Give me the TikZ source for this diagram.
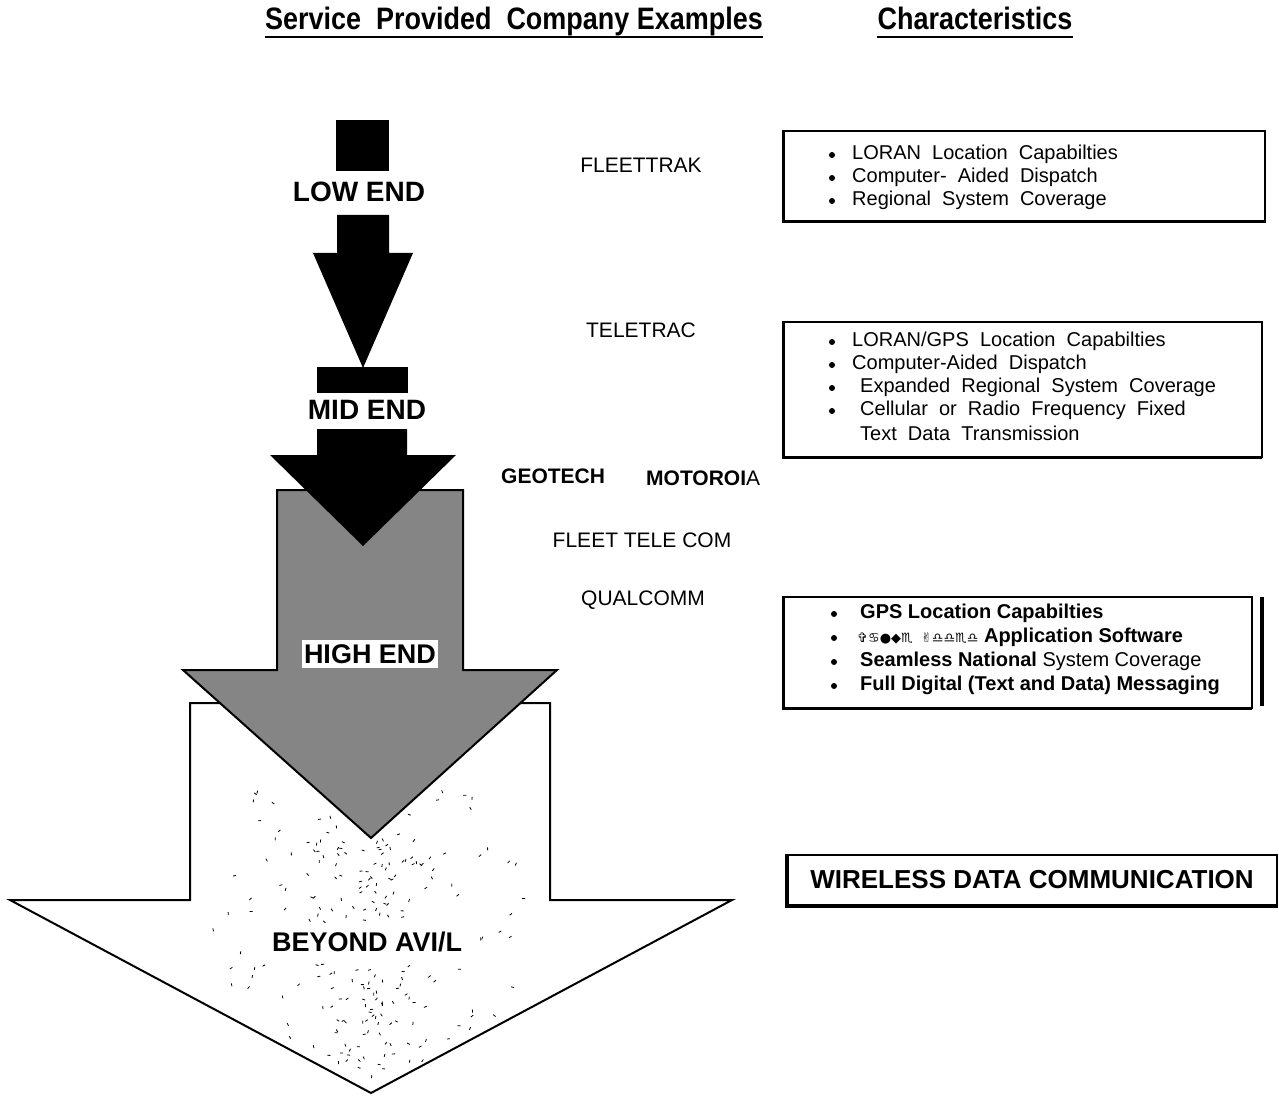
\documentclass[tikz,border=0pt]{standalone}
\usepackage{fontspec}
\setmainfont{Liberation Sans}
\newfontfamily\symfont{DejaVu Sans}
\begin{document}
\begin{tikzpicture}[x=1pt,y=-1pt,
  lbl/.style={inner sep=0pt,font=\fontsize{21}{24}\selectfont},
  blbl/.style={inner sep=0pt,font=\fontsize{21}{24}\selectfont\bfseries},
  big/.style={inner sep=0pt,font=\fontsize{28}{32}\selectfont\bfseries},
  hdr/.style={inner sep=0pt,font=\fontsize{31}{34}\selectfont\bfseries},
  charbox/.style={draw,line width=2pt,fill=white},
  item/.style={inner sep=0pt,anchor=west,font=\fontsize{20}{22}\selectfont},
  bitem/.style={inner sep=0pt,anchor=west,font=\fontsize{20}{22}\selectfont\bfseries},
  bul/.style={circle,fill=black,inner sep=0pt,minimum size=6pt},
  ]
\useasboundingbox (0,0) rectangle (1279,1099);
% headers
\node[hdr,anchor=base] (h1) at (514,30) {\scalebox{0.87}[1]{Service\ \ Provided\ \ Company Examples}};
\node[hdr,anchor=base] (h2) at (975,30) {\scalebox{0.87}[1]{Characteristics}};
\draw[line width=2.5pt] ([yshift=-7pt]h1.base west) -- ([yshift=-7pt]h1.base east);
\draw[line width=2.5pt] ([yshift=-7pt]h2.base west) -- ([yshift=-7pt]h2.base east);

% white arrow (BEYOND)
\draw[line width=2pt,fill=white] (190,703) -- (550,703) -- (550,900) -- (732,900) -- (371,1093) -- (10,900) -- (190,900) -- cycle;
% speckles
\pgfmathsetseed{11}
\foreach \i in {1,...,320} {
  \pgfmathsetmacro{\px}{371+rand*abs(rand)*185}
  \pgfmathsetmacro{\py}{790+rnd*290}
  \pgfmathsetmacro{\ang}{rnd*180}
  \pgfmathparse{((\py<=900)*(abs(\px-371)<168)+(\py>900)*(abs(\px-371)<(1090-\py)*1.8))*(1-(\py<846)*(abs(\px-371)<(846-\py)*1.2))*(1-(\py>922)*(\py<964)*(\px>266)*(\px<478))}
  \ifdim\pgfmathresult pt>0.5pt
    \draw[line width=0.8pt,rotate around={\ang:(\px,\py)}] (\px-1.5,\py) -- (\px+1.5,\py);
  \fi
}
% gray arrow (HIGH END)
\draw[line width=2pt,fill=black!48] (277,490) -- (463,490) -- (463,670) -- (557,670) -- (371,838) -- (183,670) -- (277,670) -- cycle;
% black mid arrow
\fill (317,429) -- (407,429) -- (407,455) -- (456,455) -- (363,546) -- (270,455) -- (317,455) -- cycle;
\fill (317,367) rectangle (408,393);
% black low arrow
\fill (337,215) -- (389,215) -- (389,253) -- (413,253) -- (363,368) -- (313,253) -- (337,253) -- cycle;
\fill (336,120) rectangle (389,171);

\node[big] (low) at (359,192) {LOW END};
\node[big] (mid) at (367,410) {MID END};
\node[fill=white,inner xsep=2pt,inner ysep=4pt,font=\fontsize{27}{30}\selectfont\bfseries] (high) at (370,654) {HIGH END};
\node[inner sep=0pt,anchor=west,font=\fontsize{27}{30}\selectfont\bfseries] (beyond) at (272,942) {BEYOND AVI/L};

% companies
\node[lbl] (fleettrak) at (641,165) {FLEETTRAK};
\node[lbl] (teletrac) at (641,330) {TELETRAC};
\node[blbl,anchor=west] (geotech) at (501,476) {GEOTECH};
\node[lbl,anchor=west] (motorola) at (646,478) {\textbf{MOTOROI}A};
\node[lbl] (fleettele) at (642,540) {FLEET TELE COM};
\node[lbl] (qualcomm) at (643,600) {QUALCOMM};

% box 1
\draw[charbox] (783,131) rectangle (1265,222);
\draw[line width=3pt] (783,131) -- (783,222) -- (1265,222);
\node[bul] (b11) at (832,155) {};
\node[item] (t11) at (852,154) {LORAN~ Location~ Capabilties};
\node[bul] (b12) at (832,178) {};
\node[item] (t12) at (852,177) {Computer-~ Aided~ Dispatch};
\node[bul] (b13) at (832,201) {};
\node[item] (t13) at (852,200) {Regional~ System~ Coverage};

% box 2
\draw[charbox] (783,322) rectangle (1262,457);
\draw[line width=3pt] (783,322) -- (783,457) -- (1262,457);
\node[bul] (b21) at (832,342) {};
\node[item] (t21) at (852,341) {LORAN/GPS~ Location~ Capabilties};
\node[bul] (b22) at (832,365) {};
\node[item] (t22) at (852,364) {Computer-Aided~ Dispatch};
\node[bul] (b23) at (832,388) {};
\node[item] (t23) at (860,387) {Expanded~ Regional~ System~ Coverage};
\node[bul] (b24) at (832,411) {};
\node[item] (t24) at (860,410) {Cellular~ or~ Radio~ Frequency~ Fixed};
\node[item] (t25) at (860,433) {Text~ Data~ Transmission};

% box 3
\draw[charbox] (783,597) rectangle (1252,708);
\draw[line width=3pt] (783,597) -- (783,708) -- (1252,708);
\draw[line width=3.5pt] (1262,597) -- (1262,706);
\node[bul] (b31) at (834,614) {};
\node[bitem] (t31) at (860,613) {GPS Location Capabilties};
\node[bul] (b32) at (834,638) {};
\node[item] (t32) at (857,637) {{\symfont\fontsize{13}{15}\selectfont ✞♋●◆♏\ \ ✌♎♎♏♎} \textbf{Application Software}};
\node[bul] (b33) at (834,662) {};
\node[item] (t33) at (860,661) {\textbf{Seamless National} System Coverage};
\node[bul] (b34) at (834,686) {};
\node[bitem] (t34) at (860,685) {Full Digital (Text and Data) Messaging};

% box 4
\node[draw,line width=2pt,minimum width=489pt,minimum height=50pt,inner sep=0pt,font=\fontsize{26}{30}\selectfont\bfseries] (wdc) at (1032,880) {WIRELESS DATA COMMUNICATION};
\draw[line width=3pt] (wdc.north west) -- (wdc.south west) -- (wdc.south east);
\end{tikzpicture}
\end{document}
